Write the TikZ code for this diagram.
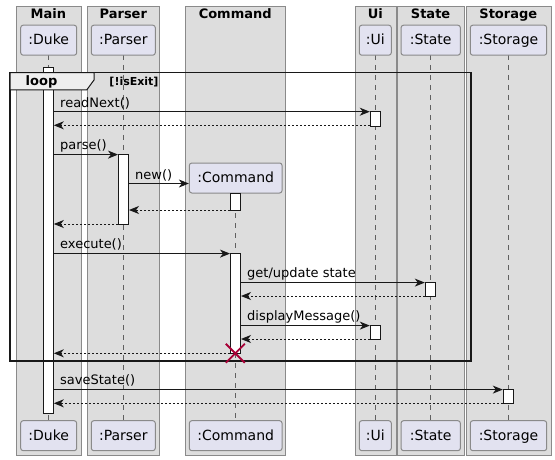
\documentclass[tikz,border=0pt]{standalone}
\usepackage{fontspec}
\setmainfont{DejaVu Sans}
\usetikzlibrary{arrows.meta,calc}
\definecolor{lanefill}{HTML}{DDDDDD}
\definecolor{laneline}{HTML}{8A8A8A}
\definecolor{partfill}{HTML}{E2E2F0}
\definecolor{ink}{HTML}{181818}
\definecolor{lifeink}{HTML}{606060}
\definecolor{tabfill}{HTML}{EEEEEE}
\definecolor{destroyc}{HTML}{A80036}
\begin{document}
\begin{tikzpicture}[x=1pt,y=-1pt,
 lane/.style={draw=laneline, fill=lanefill, line width=1pt, anchor=north west, inner sep=0, minimum height=449pt},
 lanetitle/.style={font=\fontsize{13}{15}\selectfont\bfseries, anchor=base, inner sep=0},
 part/.style={draw=laneline, fill=partfill, rounded corners=2.5pt, line width=1pt, minimum height=30pt, inner sep=0, text height=10.5pt, text depth=0.9pt, font=\fontsize{14}{16}\selectfont},
 life/.style={draw=lifeink, line width=0.8pt, dash pattern=on 5pt off 5pt},
 act/.style={draw=ink, fill=white, line width=1pt, minimum width=10pt, inner sep=0, anchor=north},
 msg/.style={draw=ink, line width=1pt, -{Stealth[length=10pt,width=8pt,inset=3pt]}},
 ret/.style={msg, dash pattern=on 2pt off 2pt},
 lbl/.style={anchor=base west, inner sep=0, font=\fontsize{13}{15}\selectfont},
]
\useasboundingbox (0,0) rectangle (555,460);
\fill[white] (0,0) rectangle (555,460);
% lanes
\node[lane, minimum width=64.7pt] (laneMain) at (16,6) {};
\node[lane, minimum width=72pt] (laneParser) at (87.3,6) {};
\node[lane, minimum width=100.3pt] (laneCommand) at (185,6) {};
\node[lane, minimum width=40.7pt] (laneUi) at (355,6) {};
\node[lane, minimum width=67.3pt] (laneState) at (397,6) {};
\node[lane, minimum width=85.3pt] (laneStorage) at (465.7,6) {};
\node[lanetitle] (tMain) at (48.3,18.5) {Main};
\node[lanetitle] (tParser) at (123.3,18.5) {Parser};
\node[lanetitle] (tCommand) at (235.2,18.5) {Command};
\node[lanetitle] (tUi) at (375.3,18.5) {Ui};
\node[lanetitle] (tState) at (430.6,18.5) {State};
\node[lanetitle] (tStorage) at (508.3,18.5) {Storage};
% lifelines
\coordinate (lDuke1) at (48.3,55); \coordinate (lDuke2) at (48.3,420.7);
\coordinate (lPar1) at (123.5,55); \coordinate (lPar2) at (123.5,420.7);
\coordinate (lCmd1) at (235.5,193.3); \coordinate (lCmd2) at (235.5,420.7);
\coordinate (lUi1) at (375.3,55); \coordinate (lUi2) at (375.3,420.7);
\coordinate (lSt1) at (430.3,55); \coordinate (lSt2) at (430.3,420.7);
\coordinate (lSto1) at (508.3,55); \coordinate (lSto2) at (508.3,420.7);
\draw[life] (lDuke1) -- (lDuke2);
\draw[life] (lPar1) -- (lPar2);
\draw[life] (lCmd1) -- (lCmd2);
\draw[life] (lUi1) -- (lUi2);
\draw[life] (lSt1) -- (lSt2);
\draw[life] (lSto1) -- (lSto2);
% participants top
\node[part, minimum width=56pt] (duke) at (48.7,40.2) {:Duke};
\node[part, minimum width=64pt] (parser) at (123.3,40.2) {:Parser};
\node[part, minimum width=32pt] (ui) at (375.3,40.2) {:Ui};
\node[part, minimum width=59.3pt] (state) at (430.7,40.2) {:State};
\node[part, minimum width=76.4pt] (storage) at (508.5,40.2) {:Storage};
\node[part, minimum width=92.7pt] (cmd) at (235.7,178) {:Command};
% participants bottom
\node[part, minimum width=56pt] (dukeB) at (48.7,435.7) {:Duke};
\node[part, minimum width=64pt] (parserB) at (123.3,435.7) {:Parser};
\node[part, minimum width=92.7pt] (cmdB) at (235.7,435.7) {:Command};
\node[part, minimum width=32pt] (uiB) at (375.3,435.7) {:Ui};
\node[part, minimum width=59.3pt] (stateB) at (430.7,435.7) {:State};
\node[part, minimum width=76.4pt] (storageB) at (508.5,435.7) {:Storage};
% activations
\node[act, minimum height=346pt] (dukebar) at (48.3,66.7) {};
\node[act, minimum height=69.7pt] (parserbar) at (123.5,154.3) {};
\node[act, minimum height=16.7pt] (cmdbar1) at (235.5,193.3) {};
\node[act, minimum height=100pt] (cmdbar2) at (235.5,253.3) {};
\node[act, minimum height=14.7pt] (uibar1) at (375.3,111) {};
\node[act, minimum height=13.7pt] (statebar) at (430.3,282.3) {};
\node[act, minimum height=13.7pt] (uibar2) at (375.3,325.3) {};
\node[act, minimum height=14pt] (storebar) at (508.3,389.3) {};
% messages
\draw[msg] (dukebar.east |- 0,111.7) -- (uibar1.west |- 0,111.7);
\node[lbl] (l1) at (60,107) {readNext()};
\draw[ret] (uibar1.west |- 0,125.3) -- (dukebar.east |- 0,125.3);
\draw[msg] (dukebar.east |- 0,154.6) -- (parserbar.west |- 0,154.6);
\node[lbl] (l2) at (60,149.8) {parse()};
\draw[msg] (parserbar.east |- 0,183.5) -- (cmd.west |- 0,183.5);
\node[lbl] (l3) at (135,179) {new()};
\draw[ret] (cmdbar1.west |- 0,210) -- (parserbar.east |- 0,210);
\draw[ret] (parserbar.west |- 0,224) -- (dukebar.east |- 0,224);
\draw[msg] (dukebar.east |- 0,253.6) -- (cmdbar2.west |- 0,253.6);
\node[lbl] (l4) at (60,248.8) {execute()};
\draw[msg] (cmdbar2.east |- 0,282.6) -- (statebar.west |- 0,282.6);
\node[lbl] (l5) at (247,277.8) {get/update state};
\draw[ret] (statebar.west |- 0,296) -- (cmdbar2.east |- 0,296);
\draw[msg] (cmdbar2.east |- 0,325.6) -- (uibar2.west |- 0,325.6);
\node[lbl] (l6) at (247,320.8) {displayMessage()};
\draw[ret] (uibar2.west |- 0,339) -- (cmdbar2.east |- 0,339);
\draw[ret] (cmdbar2.west |- 0,353.3) -- (dukebar.east |- 0,353.3);
\draw[msg] (dukebar.east |- 0,389.6) -- (storebar.west |- 0,389.6);
\node[lbl] (l7) at (60,384.8) {saveState()};
\draw[ret] (storebar.west |- 0,403.3) -- (dukebar.east |- 0,403.3);
% loop frame
\draw[ink, line width=1.6pt] (10,72.7) rectangle (470.7,361);
\draw[ink, line width=1pt, fill=tabfill] (10,72.7) -- (94,72.7) -- (94,80) -- (86.7,90) -- (10,90) -- cycle;
\draw[ink, line width=1.6pt] (10,72.7) -- (94,72.7);
\node[lanetitle] (loopl) at (41.5,86) {loop};
\node[anchor=base, inner sep=0, font=\fontsize{11}{13}\selectfont\bfseries] (guard) at (134,85.5) {[!isExit]};
% destroy
\coordinate (dx) at (235.3,353.3);
\draw[destroyc, line width=1.8pt] ($(dx)+(-9.5,-9.5)$) -- ($(dx)+(9.5,9.5)$);
\draw[destroyc, line width=1.8pt] ($(dx)+(-9.5,9.5)$) -- ($(dx)+(9.5,-9.5)$);
\end{tikzpicture}
\end{document}
